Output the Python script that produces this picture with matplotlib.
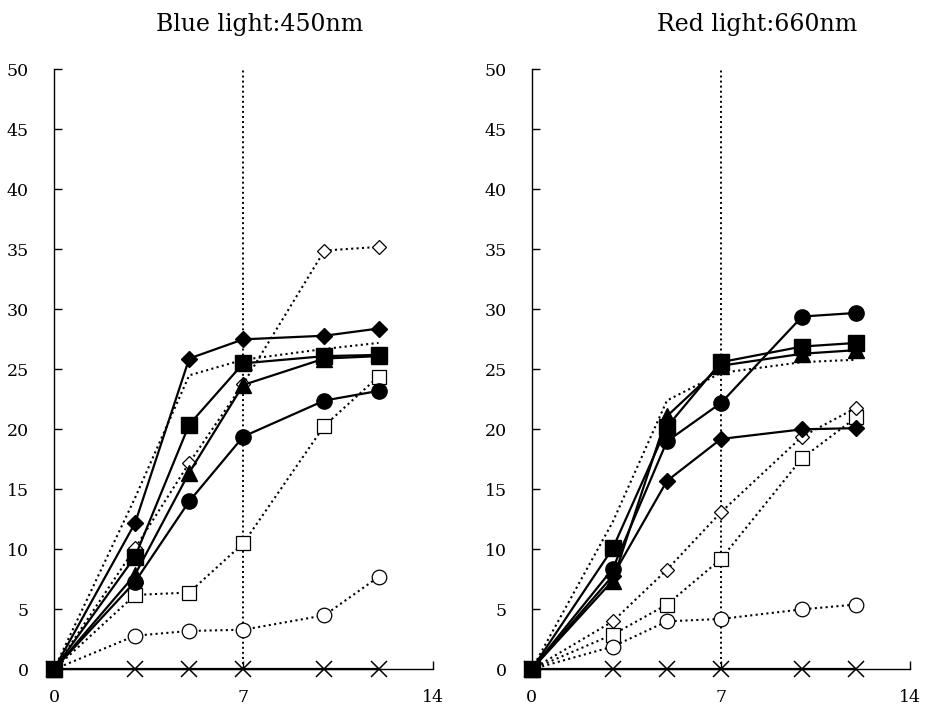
import matplotlib
matplotlib.use("Agg")
import matplotlib.pyplot as plt

plt.rcParams['font.family'] = ['DejaVu Serif']

days = [0, 3, 5, 7, 10, 12]

# Blue light (450 nm)
blue_diamond = [0, 12.2, 25.9, 27.5, 27.8, 28.4]
blue_square = [0, 9.4, 20.4, 25.5, 26.1, 26.2]
blue_triangle = [0, 7.9, 16.4, 23.7, 25.9, 26.1]
blue_circle = [0, 7.3, 14.0, 19.4, 22.4, 23.2]
blue_open_diamond = [0, 10.1, 17.2, 23.8, 34.9, 35.2]
blue_open_square = [0, 6.2, 6.4, 10.5, 20.3, 24.4]
blue_open_circle = [0, 2.8, 3.2, 3.3, 4.5, 7.7]
blue_dotted = [0, 14.3, 24.5, 25.8, 26.7, 27.2]
blue_cross = [0, 0, 0, 0, 0, 0]

# Red light (660 nm)
red_diamond = [0, 7.8, 15.7, 19.2, 20.0, 20.1]
red_square = [0, 10.1, 20.2, 25.6, 26.9, 27.2]
red_triangle = [0, 7.4, 21.1, 25.3, 26.3, 26.6]
red_circle = [0, 8.4, 19.0, 22.2, 29.4, 29.7]
red_open_diamond = [0, 4.0, 8.3, 13.1, 19.4, 21.8]
red_open_square = [0, 2.9, 5.4, 9.2, 17.6, 21.0]
red_open_circle = [0, 1.9, 4.0, 4.2, 5.0, 5.4]
red_dotted = [0, 12.3, 22.4, 24.7, 25.6, 25.8]
red_cross = [0, 0, 0, 0, 0, 0]

titles = ["Blue light:450nm", "Red light:660nm"]
xticks = [0, 7, 14]
yticks = list(range(0, 51, 5))

fig = plt.figure(figsize=(9.26, 7.11), dpi=100)
ax1 = fig.add_axes([0.0583, 0.0586, 0.4089, 0.8439])
ax2 = fig.add_axes([0.5742, 0.0586, 0.4089, 0.8439])


def draw_panel(ax, title, title_x, diamond, square, triangle, circle,
               odiamond, osquare, ocircle, dotted, cross):
    lw = 1.6
    dots = (0, (1, 1.6))
    # marker day line
    ax.plot([7, 7], [0, 50], color='black', ls=dots, lw=1.4, zorder=1)

    # dotted series with open markers
    ax.plot(days, dotted, color='black', ls=dots, lw=1.5, zorder=2)
    for vals, m, ms in [(osquare, 's', 10), (ocircle, 'o', 10.5), (odiamond, 'D', 7.5)]:
        ax.plot(days, vals, color='black', ls=dots, lw=1.5,
                marker=m, ms=ms, mfc='white', mec='black', mew=0.9, zorder=2)

    # solid series with filled markers
    ax.plot(days, cross, color='black', lw=lw, marker='x', ms=12, mew=1.1, zorder=3)
    ax.plot(days, circle, color='black', lw=lw, marker='o', ms=11, zorder=4)
    ax.plot(days, triangle, color='black', lw=lw, marker='^', ms=11, zorder=4)
    ax.plot(days, square, color='black', lw=lw, marker='s', ms=12, zorder=4)
    ax.plot(days, diamond, color='black', lw=lw, marker='D', ms=8, zorder=4)

    ax.set_xlim(0, 14)
    ax.set_ylim(0, 50)
    ax.set_xticks(xticks)
    ax.set_yticks(yticks)
    ax.spines['top'].set_visible(False)
    ax.spines['right'].set_visible(False)
    ax.spines['left'].set_linewidth(1.0)
    ax.spines['bottom'].set_linewidth(1.0)
    ax.tick_params(direction='in', length=6, width=1.0, labelsize=12.5)
    ax.tick_params(axis='y', pad=18)
    ax.tick_params(axis='x', pad=14)
    ax.text(title_x, 1.075, title, transform=ax.transAxes, ha='center',
            va='center', fontsize=17)
    for line in ax.lines:
        line.set_clip_on(False)


draw_panel(ax1, titles[0], 0.544, blue_diamond, blue_square, blue_triangle,
           blue_circle, blue_open_diamond, blue_open_square, blue_open_circle,
           blue_dotted, blue_cross)
draw_panel(ax2, titles[1], 0.595, red_diamond, red_square, red_triangle,
           red_circle, red_open_diamond, red_open_square, red_open_circle,
           red_dotted, red_cross)

fig.savefig("out.png", dpi=100, facecolor='white')
